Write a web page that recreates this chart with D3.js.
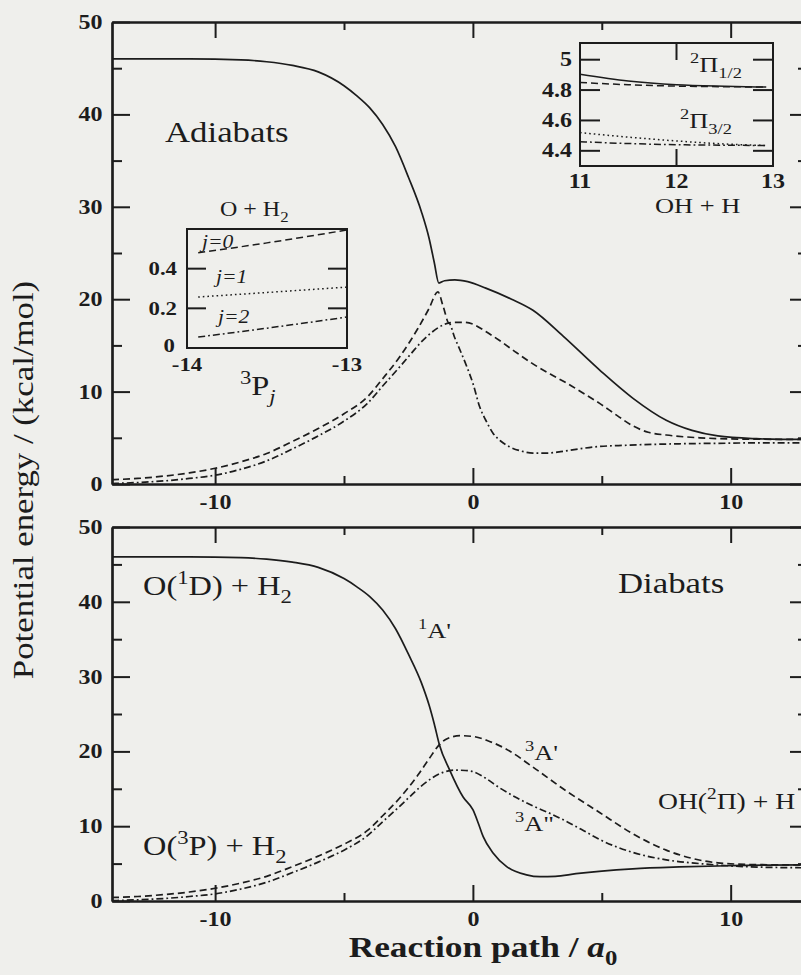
<!DOCTYPE html>
<html>
<head>
<meta charset="utf-8">
<script src="https://cdn.jsdelivr.net/npm/d3@7"></script>
<style>
  body { margin: 0; background: #efefec; }
  svg { display: block; }
  text { font-family: "Liberation Serif", "Times New Roman", serif; fill: #1c1c1c; white-space: pre; }
</style>
</head>
<body>
<svg id="chart" width="801" height="975"></svg>
<script>
// Reaction path s (a0) vs potential energy E (kcal/mol) for O + H2 -> OH + H

// Adiabatic curves
const adiabatUpper = [[-14,46.0],[-11,46.0],[-9,45.9],[-8,45.7],[-7,45.3],[-6,44.6],[-5,43.1],[-4.5,42.0],[-4,40.7],[-3.5,38.9],[-3,36.5],[-2.5,33.2],[-2,29.5],[-1.7,26.6],[-1.5,24.0],[-1.32,21.75],[-1.1,22.0],[-0.7,22.1],[-0.2,21.9],[0.5,21.2],[1.5,20.0],[2.33,18.8],[3.5,16.0],[4.93,12.3],[6.2,9.3],[7.5,6.9],[8.5,5.8],[9.5,5.2],[11,4.9],[12,4.835],[13,4.82]];
const adiabatMiddle = [[-14,0.47],[-13,0.6],[-12,0.85],[-11,1.2],[-10,1.7],[-9,2.4],[-8,3.3],[-7,4.6],[-6,6.0],[-5,7.6],[-4.1,9.4],[-3.5,11.4],[-2.83,13.8],[-2.14,16.8],[-1.7,19.0],[-1.36,20.8],[-1.15,19.2],[-0.93,17.45],[-0.7,17.5],[-0.35,17.5],[0,17.3],[0.5,16.5],[1.05,15.5],[1.7,14.2],[2.33,13.0],[3.0,11.9],[3.65,10.9],[4.3,9.8],[4.93,8.7],[5.6,7.4],[6.2,6.3],[6.8,5.6],[7.5,5.3],[8.8,5.0],[10,4.88],[11,4.85],[12,4.825],[13,4.82]];
const adiabatLower = [[-14,0.05],[-13,0.16],[-12,0.33],[-11,0.6],[-10,0.95],[-9,1.6],[-8,2.5],[-7,3.8],[-6,5.2],[-5,6.8],[-4.1,8.7],[-3.5,10.6],[-2.83,12.7],[-2.4,14.1],[-2.06,15.2],[-1.6,16.4],[-1.16,17.2],[-0.93,17.4],[-0.7,15.8],[-0.5,14.5],[-0.25,12.8],[0,10.9],[0.27,8.3],[0.5,6.9],[0.78,5.5],[1.1,4.6],[1.44,4.0],[1.9,3.55],[2.33,3.35],[2.9,3.35],[3.4,3.5],[4.0,3.75],[4.66,4.0],[6,4.2],[8,4.35],[10,4.42],[11,4.46],[12,4.44],[13,4.44]];

// Diabatic curves
const diabatSinglet = [[-14,46.0],[-11,46.0],[-9,45.9],[-8,45.7],[-7,45.3],[-6,44.6],[-5,43.1],[-4.5,42.0],[-4,40.7],[-3.5,38.9],[-3,36.4],[-2.5,33.0],[-2,29.2],[-1.7,26.2],[-1.5,23.7],[-1.3,20.9],[-0.9,17.5],[-0.38,13.9],[0,12.2],[0.21,10.4],[0.4,8.6],[0.79,6.4],[1.31,4.6],[2.08,3.5],[2.6,3.25],[3.2,3.3],[4.0,3.65],[5,4.0],[6.2,4.3],[8,4.55],[10,4.72],[11.5,4.8],[13,4.82]];
const diabatTripletAp = [[-14,0.47],[-13,0.6],[-12,0.85],[-11,1.2],[-10,1.7],[-9,2.4],[-8,3.3],[-7,4.6],[-6,6.0],[-5,7.6],[-4.1,9.4],[-3.5,11.4],[-2.83,13.8],[-2.14,16.8],[-1.7,19.0],[-1.3,20.9],[-1.0,21.7],[-0.5,22.1],[0,22.0],[0.6,21.4],[1.3,20.3],[2.33,17.9],[3.5,15.0],[4.93,11.8],[6.2,9.0],[7.5,6.8],[8.5,5.7],[9.5,5.1],[11,4.86],[13,4.82]];
const diabatTripletApp = [[-14,0.05],[-13,0.16],[-12,0.33],[-11,0.6],[-10,0.95],[-9,1.6],[-8,2.5],[-7,3.8],[-6,5.2],[-5,6.8],[-4.1,8.7],[-3.5,10.6],[-2.83,12.7],[-2.4,14.1],[-2.06,15.2],[-1.6,16.4],[-1.16,17.2],[-0.7,17.5],[-0.3,17.45],[0,17.3],[0.5,16.4],[1.05,15.1],[1.7,13.8],[2.33,12.7],[3.0,11.7],[3.65,10.6],[4.3,9.4],[4.93,8.2],[5.6,7.2],[6.2,6.5],[7.5,5.5],[8.8,5.0],[10.5,4.6],[12,4.47],[13,4.44]];

// Entrance-channel detail (O + H2, 3P_j levels)
const entranceJ0 = [[-13.93,0.48],[-13.5,0.53],[-13,0.595]];
const entranceJ1 = [[-13.93,0.257],[-13.5,0.28],[-13,0.307]];
const entranceJ2 = [[-13.93,0.055],[-13.5,0.10],[-13,0.156]];

// Exit-channel detail (OH + H, 2Pi fine structure)
const exitSolid   = [[11,4.905],[11.5,4.86],[12,4.835],[12.5,4.825],[12.93,4.82]];
const exitDashed  = [[11,4.85],[11.5,4.835],[12,4.826],[12.5,4.822],[12.93,4.82]];
const exitDotted  = [[11,4.52],[11.5,4.49],[12,4.465],[12.5,4.445],[12.93,4.435]];
const exitDashDot = [[11,4.46],[11.5,4.448],[12,4.44],[12.5,4.437],[12.93,4.435]];

// Axis ticks
const yMajor = [0,10,20,30,40,50];
const yMinor = [5,15,25,35,45];
const xMajor = [-10,0,10];
const xMinor = [-5,5];
const entranceYTicks = [0.2,0.4];
const entranceYLabels = [0,0.2,0.4];
const entranceXLabels = [-14,-13];
const exitYTicks = [4.4,4.6,4.8,5];
const exitXLabels = [11,12,13];

const INK = "#1c1c1c";
const SX = 1.2; // horizontal text stretch

const DASH = { solid: null, dashed: "7,4", dotted: "1.6,3", dashdot: "7,3,1.8,3" };

const svg = d3.select("#chart");

function richText(parent, x, y, parts, size, opts = {}) {
  const { anchor = "start", weight = "normal", sx = SX, italic = false, rotate = 0 } = opts;
  const t = parent.append("text")
    .attr("transform", `translate(${x},${y}) rotate(${rotate}) scale(${sx},1)`)
    .attr("font-size", size)
    .attr("font-weight", weight)
    .attr("text-anchor", anchor);
  if (italic) t.attr("font-style", "italic");
  let shift = 0;
  parts.forEach(p => {
    const [str, kind = "n", style] = typeof p === "string" ? [p] : p;
    const target = kind === "sup" ? -0.42 * size : kind === "sub" ? 0.28 * size : 0;
    const ts = t.append("tspan").text(str).attr("dy", target - shift);
    if (kind !== "n") ts.attr("font-size", size * 0.7);
    if (style === "it") ts.attr("font-style", "italic");
    shift = target;
  });
  return t;
}

const x = d3.scaleLinear([-14, 13], [112, 808]);

function panel(y0, y1, curves) {
  const y = d3.scaleLinear([0, 50], [y0, y1]);
  const g = svg.append("g");
  const clipId = "clip" + y0;
  svg.append("clipPath").attr("id", clipId)
    .append("rect").attr("x", x(-14)).attr("y", y1).attr("width", x(13) - x(-14)).attr("height", y0 - y1);

  const line = d3.line().x(d => x(d[0])).y(d => y(d[1])).curve(d3.curveMonotoneX);
  curves.forEach(c => {
    g.append("path").datum(c.data)
      .attr("clip-path", `url(#${clipId})`)
      .attr("d", line).attr("fill", "none").attr("stroke", INK)
      .attr("stroke-width", 1.7).attr("stroke-dasharray", DASH[c.style]);
  });

  const fmt = d => String(d);
  const styleAxis = a => {
    a.selectAll("path.domain").attr("stroke", INK).attr("stroke-width", 2.2);
    a.selectAll(".tick line").attr("stroke", INK).attr("stroke-width", 2);
    a.selectAll(".tick text").attr("font-family", null).attr("font-size", 20).attr("font-weight", "bold")
      .attr("fill", INK).attr("transform", `scale(${SX},1)`);
  };

  // left
  g.append("g").attr("transform", `translate(${x(-14)},0)`)
    .call(d3.axisLeft(y).tickValues(yMajor).tickSizeInner(-18).tickSizeOuter(0).tickPadding(8).tickFormat(fmt)).call(styleAxis);
  g.append("g").attr("transform", `translate(${x(-14)},0)`)
    .call(d3.axisLeft(y).tickValues(yMinor).tickSizeInner(-10).tickSizeOuter(0).tickFormat("")).call(styleAxis);
  // right
  g.append("g").attr("transform", `translate(${x(13)},0)`)
    .call(d3.axisRight(y).tickValues(yMajor).tickSizeInner(-18).tickSizeOuter(0).tickFormat("")).call(styleAxis);
  g.append("g").attr("transform", `translate(${x(13)},0)`)
    .call(d3.axisRight(y).tickValues(yMinor).tickSizeInner(-10).tickSizeOuter(0).tickFormat("")).call(styleAxis);
  // bottom
  g.append("g").attr("transform", `translate(0,${y0})`)
    .call(d3.axisBottom(x).tickValues(xMajor).tickSizeInner(-16).tickSizeOuter(0).tickPadding(11).tickFormat(fmt)).call(styleAxis);
  g.append("g").attr("transform", `translate(0,${y0})`)
    .call(d3.axisBottom(x).tickValues(xMinor).tickSizeInner(-8).tickSizeOuter(0).tickFormat("")).call(styleAxis);
  // top
  g.append("g").attr("transform", `translate(0,${y1})`)
    .call(d3.axisTop(x).tickValues(xMajor).tickSizeInner(-16).tickSizeOuter(0).tickFormat("")).call(styleAxis);
  g.append("g").attr("transform", `translate(0,${y1})`)
    .call(d3.axisTop(x).tickValues(xMinor).tickSizeInner(-8).tickSizeOuter(0).tickFormat("")).call(styleAxis);
  return { g, y };
}

// Upper panel: adiabats
const upperPanel = panel(484, 22, [
  { data: adiabatUpper, style: "solid" },
  { data: adiabatMiddle, style: "dashed" },
  { data: adiabatLower, style: "dashdot" }
]);
// Lower panel: diabats
const lowerPanel = panel(901, 527, [
  { data: diabatSinglet, style: "solid" },
  { data: diabatTripletAp, style: "dashed" },
  { data: diabatTripletApp, style: "dashdot" }
]);

// Inset drawing
function inset(box, xDom, yDom, curves, cfg) {
  const xi = d3.scaleLinear(xDom, [box.x0, box.x1]);
  const yi = d3.scaleLinear(yDom, [box.y0, box.y1]);
  const g = svg.append("g");
  const line = d3.line().x(d => xi(d[0])).y(d => yi(d[1])).curve(d3.curveMonotoneX);
  curves.forEach(c => {
    g.append("path").datum(c.data).attr("d", line).attr("fill", "none")
      .attr("stroke", INK).attr("stroke-width", 1.5).attr("stroke-dasharray", DASH[c.style]);
  });
  g.append("rect").attr("x", box.x0).attr("y", box.y1)
    .attr("width", box.x1 - box.x0).attr("height", box.y0 - box.y1)
    .attr("fill", "none").attr("stroke", INK).attr("stroke-width", 2);
  cfg.yTicks.forEach(v => {
    g.append("line").attr("x1", box.x0).attr("x2", box.x0 + cfg.tick).attr("y1", yi(v)).attr("y2", yi(v)).attr("stroke", INK).attr("stroke-width", 2);
    g.append("line").attr("x1", box.x1).attr("x2", box.x1 - cfg.tick).attr("y1", yi(v)).attr("y2", yi(v)).attr("stroke", INK).attr("stroke-width", 2);
  });
  (cfg.xTicks || []).forEach(v => {
    g.append("line").attr("x1", xi(v)).attr("x2", xi(v)).attr("y1", box.y1).attr("y2", box.y1 + cfg.xtick).attr("stroke", INK).attr("stroke-width", 2);
    g.append("line").attr("x1", xi(v)).attr("x2", xi(v)).attr("y1", box.y0).attr("y2", box.y0 - cfg.xtick).attr("stroke", INK).attr("stroke-width", 2);
  });
  cfg.yLabels.forEach(v => {
    const dx = v === 0 ? cfg.yLabelDx + 2 : cfg.yLabelDx;
    const dy = v === 0 ? 4 : 6.5;
    richText(g, box.x0 - dx, yi(v) + dy, [String(v)], cfg.font, { anchor: "end", weight: "bold" });
  });
  cfg.xLabels.forEach(v => {
    richText(g, xi(v), box.y0 + cfg.xLabelDy, [String(v)], cfg.font, { anchor: "middle", weight: "bold" });
  });
  return g;
}

inset({ x0: 187, x1: 347, y0: 348, y1: 229 }, [-14, -13], [0, 0.6], [
  { data: entranceJ0, style: "dashed" },
  { data: entranceJ1, style: "dotted" },
  { data: entranceJ2, style: "dashdot" }
], { yTicks: entranceYTicks, yLabels: entranceYLabels, xLabels: entranceXLabels, tick: 19, font: 19, xLabelDy: 23, yLabelDx: 10 });

inset({ x0: 580, x1: 773, y0: 166, y1: 43 }, [11, 13], [4.3, 5.11], [
  { data: exitSolid, style: "solid" },
  { data: exitDashed, style: "dashed" },
  { data: exitDotted, style: "dotted" },
  { data: exitDashDot, style: "dashdot" }
], { yTicks: exitYTicks, xTicks: [12], yLabels: exitYTicks, xLabels: exitXLabels, tick: 20, xtick: 17, font: 20, xLabelDy: 22, yLabelDx: 8 });

// Annotations
const ann = svg.append("g");
richText(ann, 165, 142, ["Adiabats"], 29);
richText(ann, 618, 593, ["Diabats"], 29);
richText(ann, 220, 216, ["O + H", ["2", "sub"]], 20);
richText(ann, 202, 248, ["j=0"], 18, { italic: true });
richText(ann, 216, 283, ["j=1"], 18, { italic: true });
richText(ann, 218, 323, ["j=2"], 18, { italic: true });
richText(ann, 240, 395, [["3", "sup"], "P", ["j", "sub", "it"]], 27);
richText(ann, 655, 213, ["OH + H"], 22);
richText(ann, 690, 72, [["2", "sup"], "Π", ["1/2", "sub"]], 22);
richText(ann, 680, 128, [["2", "sup"], "Π", ["3/2", "sub"]], 22);
richText(ann, 143, 595, ["O(", ["1", "sup"], "D) + H", ["2", "sub"]], 27);
richText(ann, 143, 855, ["O(", ["3", "sup"], "P) + H", ["2", "sub"]], 27);
richText(ann, 658, 809, ["OH(", ["2", "sup"], "Π) + H"], 23);
richText(ann, 418, 638, [["1", "sup"], "A'"], 22);
richText(ann, 525, 760, [["3", "sup"], "A'"], 22);
richText(ann, 515, 831, [["3", "sup"], "A\""], 22);

// Axis titles
richText(svg, 33, 480, ["Potential energy / (kcal/mol)"], 29, { anchor: "middle", rotate: -90, sx: 1.2 });
richText(svg, 483, 957, ["Reaction path / ", ["a", "n", "it"], ["0", "sub"]], 29, { anchor: "middle", weight: "bold", sx: 1.22 });
</script>
</body>
</html>
